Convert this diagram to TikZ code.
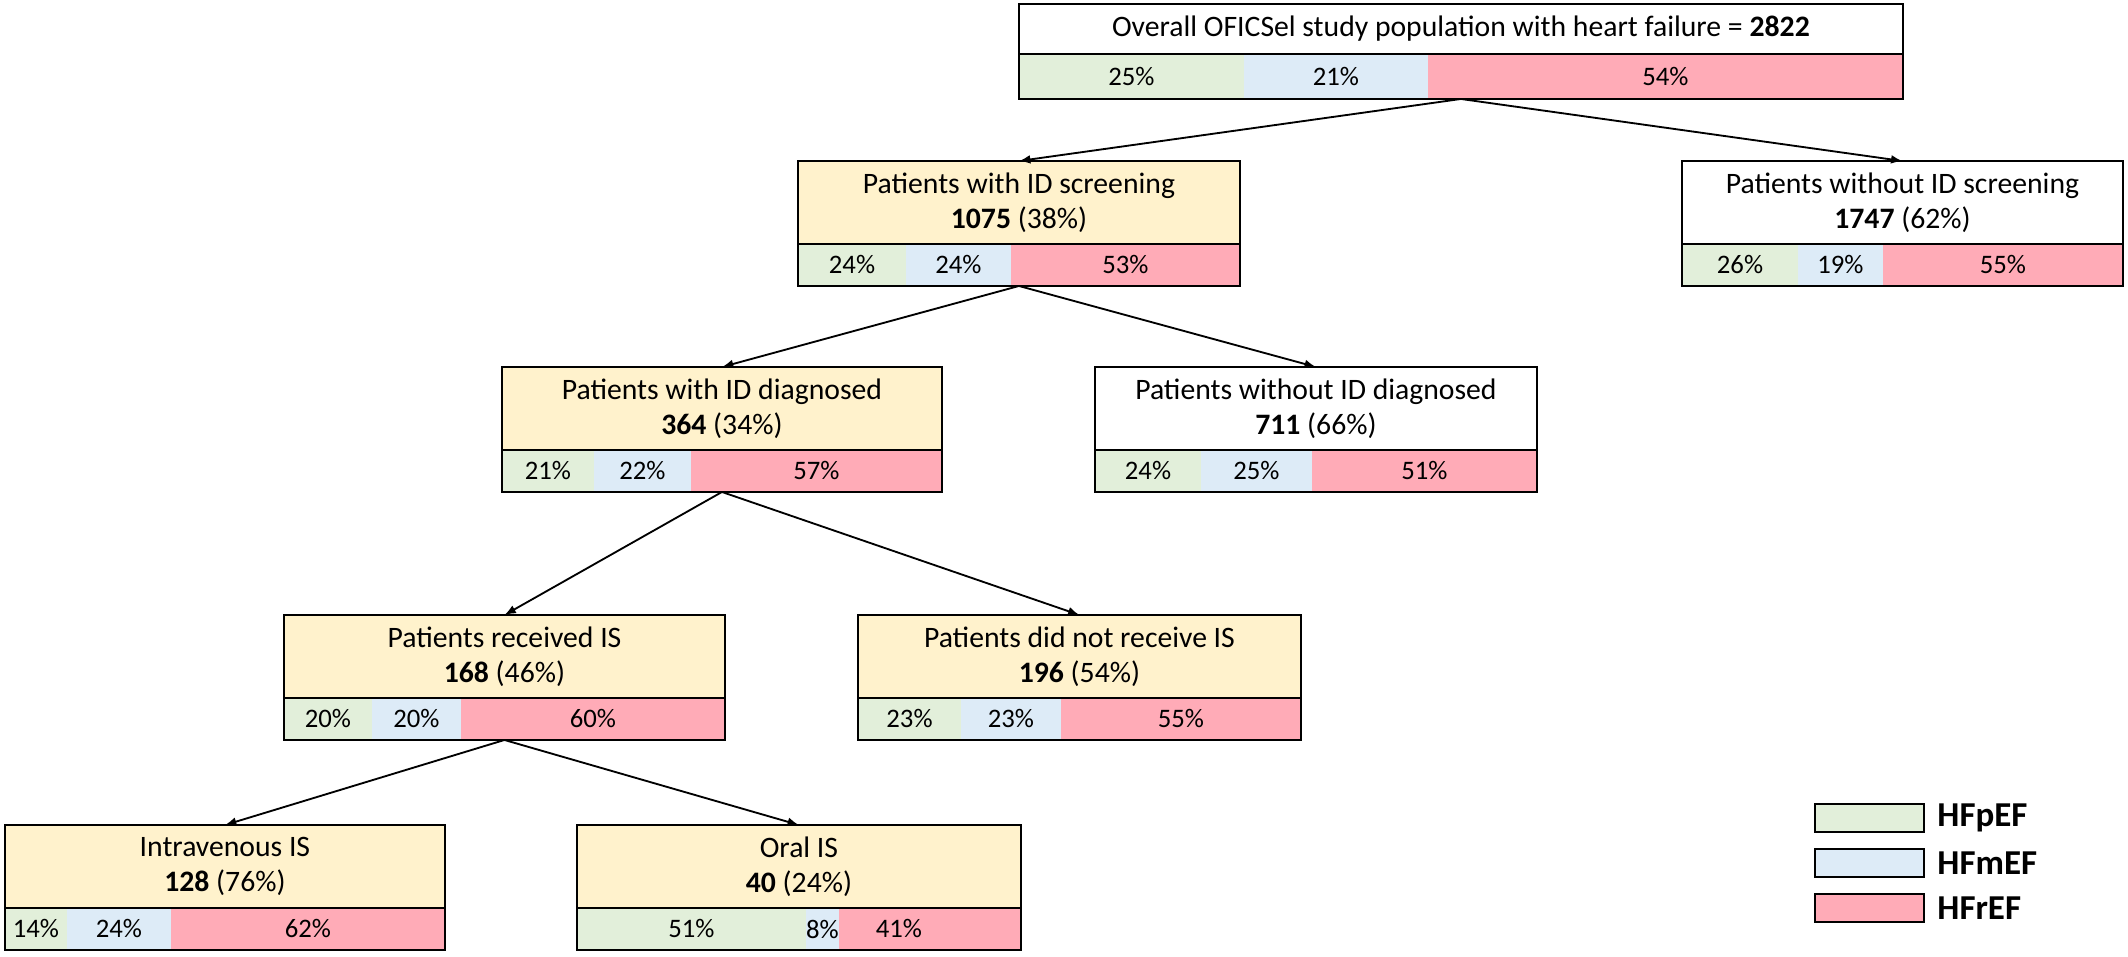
\documentclass[tikz,border=0pt]{standalone}
\usepackage{fontspec}
\setmainfont{Carlito}
\usetikzlibrary{positioning,fit,arrows.meta}
\definecolor{hdryellow}{RGB}{255,242,204}
\definecolor{pgreen}{RGB}{226,239,218}
\definecolor{mblue}{RGB}{221,235,247}
\definecolor{rpink}{RGB}{255,171,183}
\begin{document}
\begin{tikzpicture}[x=0.02cm, y=-0.02cm,
  hdr/.style={draw, fill=white, line width=1.2pt, inner sep=0pt, outer sep=0pt, anchor=north west,
    minimum width=8.84cm, minimum height=1.66cm, align=center, font=\fontsize{16.9}{20}\selectfont},
  seg/.style={inner sep=0pt, outer sep=0pt, minimum height=0.84cm, font=\fontsize{15.2}{18}\selectfont},
  hfp/.style={seg, fill=pgreen, minimum width=#1},
  hfm/.style={seg, fill=mblue, minimum width=#1},
  hfr/.style={seg, fill=rpink, minimum width=#1},
  bar/.style={draw, line width=1.2pt, inner sep=0pt, outer sep=0pt},
  link/.style={-{Latex[length=6.5pt,width=5pt]}, line width=1.05pt},
  legbox/.style={draw, line width=1.2pt, inner sep=0pt, anchor=north west, minimum width=2.18cm, minimum height=0.56cm},
  legtext/.style={inner sep=0pt, font=\fontsize{19.9}{22}\selectfont\bfseries}
]
\useasboundingbox (0,0) rectangle (2128,956);

% overall population
\node[hdr, minimum width=17.68cm, minimum height=1.0cm] (hAll) at (1019,4)
  {Overall OFICSel study population with heart failure = \textbf{2822}};
\node[hfp=4.5cm, minimum height=0.9cm, anchor=north west] (pAll) at (hAll.south west) {25\%};
\node[hfm=3.68cm, minimum height=0.9cm, right=0pt of pAll] (mAll) {21\%};
\node[hfr=9.5cm, minimum height=0.9cm, right=0pt of mAll] (rAll) {54\%};
\node[bar, fit=(pAll)(rAll)] (bAll) {};

% ID screening
\node[hdr, fill=hdryellow] (hScr) at (798,161) {Patients with ID screening\\\textbf{1075} (38\%)};
\node[hfp=2.16cm, anchor=north west] (pScr) at (hScr.south west) {24\%};
\node[hfm=2.1cm, right=0pt of pScr] (mScr) {24\%};
\node[hfr=4.58cm, right=0pt of mScr] (rScr) {53\%};
\node[bar, fit=(pScr)(rScr)] (bScr) {};

\node[hdr, minimum width=8.82cm] (hNoScr) at (1682,161) {Patients without ID screening\\\textbf{1747} (62\%)};
\node[hfp=2.32cm, anchor=north west] (pNoScr) at (hNoScr.south west) {26\%};
\node[hfm=1.7cm, right=0pt of pNoScr] (mNoScr) {19\%};
\node[hfr=4.8cm, right=0pt of mNoScr] (rNoScr) {55\%};
\node[bar, fit=(pNoScr)(rNoScr)] (bNoScr) {};

% ID diagnosis
\node[hdr, fill=hdryellow, minimum width=8.8cm] (hDx) at (502,367) {Patients with ID diagnosed\\\textbf{364} (34\%)};
\node[hfp=1.84cm, anchor=north west] (pDx) at (hDx.south west) {21\%};
\node[hfm=1.94cm, right=0pt of pDx] (mDx) {22\%};
\node[hfr=5.02cm, right=0pt of mDx] (rDx) {57\%};
\node[bar, fit=(pDx)(rDx)] (bDx) {};

\node[hdr] (hNoDx) at (1095,367) {Patients without ID diagnosed\\\textbf{711} (66\%)};
\node[hfp=2.12cm, anchor=north west] (pNoDx) at (hNoDx.south west) {24\%};
\node[hfm=2.22cm, right=0pt of pNoDx] (mNoDx) {25\%};
\node[hfr=4.5cm, right=0pt of mNoDx] (rNoDx) {51\%};
\node[bar, fit=(pNoDx)(rNoDx)] (bNoDx) {};

% iron supplementation
\node[hdr, fill=hdryellow, minimum width=8.82cm] (hIS) at (284,615) {Patients received IS\\\textbf{168} (46\%)};
\node[hfp=1.76cm, anchor=north west] (pIS) at (hIS.south west) {20\%};
\node[hfm=1.78cm, right=0pt of pIS] (mIS) {20\%};
\node[hfr=5.28cm, right=0pt of mIS] (rIS) {60\%};
\node[bar, fit=(pIS)(rIS)] (bIS) {};

\node[hdr, fill=hdryellow, minimum width=8.86cm] (hNoIS) at (858,615) {Patients did not receive IS\\\textbf{196} (54\%)};
\node[hfp=2.06cm, anchor=north west] (pNoIS) at (hNoIS.south west) {23\%};
\node[hfm=2.0cm, right=0pt of pNoIS] (mNoIS) {23\%};
\node[hfr=4.8cm, right=0pt of mNoIS] (rNoIS) {55\%};
\node[bar, fit=(pNoIS)(rNoIS)] (bNoIS) {};

% route of IS
\node[hdr, fill=hdryellow, minimum width=8.8cm] (hIV) at (5,825) {Intravenous IS\\\textbf{128} (76\%)};
\node[hfp=1.24cm, anchor=north west] (pIV) at (hIV.south west) {14\%};
\node[hfm=2.08cm, right=0pt of pIV] (mIV) {24\%};
\node[hfr=5.48cm, right=0pt of mIV] (rIV) {62\%};
\node[bar, fit=(pIV)(rIV)] (bIV) {};

\node[hdr, fill=hdryellow, minimum width=8.88cm] (hOral) at (577,825) {Oral IS\\\textbf{40} (24\%)};
\node[hfp=4.58cm, anchor=north west] (pOral) at (hOral.south west) {51\%};
\node[hfm=0.66cm, right=0pt of pOral] (mOral) {\makebox[0pt]{8\%}};
\node[hfr=3.64cm, right=0pt of mOral] (rOral) {\makebox[0pt]{41\%\hspace{1.24cm}}};
\node[bar, fit=(pOral)(rOral)] (bOral) {};

% connectors
\draw[link] (bAll.south) -- (hScr.north);
\draw[link] (bAll.south) -- (hNoScr.north);
\draw[link] (bScr.south) -- (hDx.north);
\draw[link] (bScr.south) -- (hNoDx.north);
\draw[link] (bDx.south) -- (hIS.north);
\draw[link] (bDx.south) -- (hNoIS.north);
\draw[link] (bIS.south) -- (hIV.north);
\draw[link] (bIS.south) -- (hOral.north);

% legend
\node[legbox, fill=pgreen] (legp) at (1814,803) {};
\node[legbox, fill=mblue] (legm) at (1814,848) {};
\node[legbox, fill=rpink] (legr) at (1814,893) {};
\node[legtext, right=0.24cm of legp] (legpt) {HFpEF};
\node[legtext, right=0.24cm of legm] (legmt) {HFmEF};
\node[legtext, right=0.24cm of legr] (legrt) {HFrEF};
\end{tikzpicture}
\end{document}
